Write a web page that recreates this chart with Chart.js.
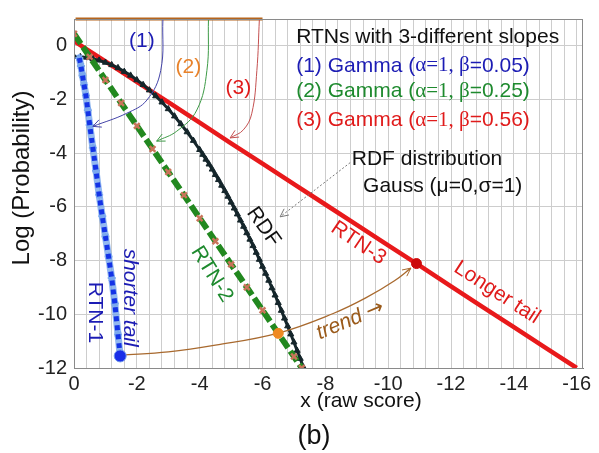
<!DOCTYPE html>
<html>
<head>
<meta charset="utf-8">
<script src="https://cdn.jsdelivr.net/npm/chart.js@4.4.1/dist/chart.umd.min.js"></script>
<style>
  html, body { margin: 0; padding: 0; background: #fff; }
  #wrap { width: 599px; height: 453px; }
</style>
</head>
<body>
<div id="wrap"><canvas id="tailChart" width="599" height="453"></canvas></div>
<script>
// Log-probability tails: three gamma RTN curves against the Gaussian RDF

// RDF, Gauss (mu=0, sigma=1)
const rdfX = [0, -0.2, -0.4, -0.6, -0.8, -1.0, -1.2, -1.4, -1.6, -1.8, -2.0, -2.2, -2.4, -2.6, -2.8,
  -3.0, -3.2, -3.4, -3.6, -3.8, -4.0, -4.1, -4.2, -4.3, -4.4, -4.5, -4.6, -4.7, -4.8, -4.9,
  -5.0, -5.1, -5.2, -5.3, -5.4, -5.5, -5.6, -5.7, -5.8, -5.9, -6.0, -6.1, -6.2, -6.3, -6.4,
  -6.5, -6.6, -6.7, -6.8, -6.9, -7.0, -7.1, -7.2, -7.3];
const rdfY = [-0.40, -0.41, -0.43, -0.48, -0.54, -0.62, -0.71, -0.82, -0.96, -1.10, -1.27, -1.45, -1.65, -1.87, -2.10,
  -2.35, -2.62, -2.91, -3.21, -3.53, -3.87, -4.05, -4.23, -4.41, -4.60, -4.80, -4.99, -5.20, -5.40, -5.61,
  -5.83, -6.05, -6.27, -6.50, -6.73, -6.97, -7.21, -7.45, -7.70, -7.96, -8.22, -8.48, -8.74, -9.02, -9.29,
  -9.57, -9.86, -10.15, -10.44, -10.74, -11.04, -11.35, -11.65, -11.97];

// RTN-1, gamma beta=0.05 (short tail)
const rtn1X = [-0.17, -0.22, -0.27, -0.32, -0.38, -0.44, -0.5, -0.6, -0.7, -0.8, -0.9, -1.0, -1.1, -1.2, -1.3, -1.4, -1.47];
const rtn1Y = [-0.45, -0.75, -1.1, -1.45, -1.85, -2.4, -2.95, -3.8, -4.65, -5.55, -6.35, -7.1, -7.85, -8.65, -9.6, -10.75, -11.55];

// RTN-2, gamma beta=0.25
const rtn2X = [0, -0.5, -1, -1.5, -2, -2.5, -3, -3.5, -4, -4.5, -5, -5.5, -6, -6.5, -7, -7.25];
const rtn2Y = [0.45, -0.41, -1.27, -2.13, -2.98, -3.84, -4.70, -5.56, -6.42, -7.28, -8.14, -8.99, -9.85, -10.71, -11.57, -12.0];

// RTN-3, gamma beta=0.56 (long tail)
const rtn3X = [0, -1, -2, -3, -4, -5, -6, -7, -8, -9, -10, -11, -12, -13, -14, -15, -16];
const rtn3Y = [0.18, -0.58, -1.34, -2.10, -2.86, -3.63, -4.39, -5.15, -5.91, -6.67, -7.43, -8.19, -8.96, -9.72, -10.48, -11.24, -12.0];

// tail end points joined by the trend arrow
const tailX = [-1.47, -6.5, -10.9];
const tailY = [-11.55, -10.71, -8.11];
const trendX = [-1.5, -3.0, -4.5, -6.5, -8.25, -9.3, -10.2, -10.72];
const trendY = [-11.52, -11.4, -11.15, -10.7, -9.97, -9.38, -8.75, -8.28];

// pointer arrows from the top edge to each RTN curve
const ptr1X = [-2.83, -2.76, -2.32, -1.68, -0.6];
const ptr1Y = [1, -0.92, -2.02, -2.51, -3.0];
const ptr2X = [-4.28, -4.23, -3.91, -3.27, -2.63];
const ptr2Y = [1, -0.92, -2.39, -3.18, -3.55];
const ptr3X = [-5.9, -5.82, -5.66, -5.39, -4.97];
const ptr3Y = [1, -0.92, -2.51, -3.13, -3.43];
const rdfPtrX = [-8.79, -6.56];
const rdfPtrY = [-4.35, -6.37];

const topBarX = [-0.05, -6.0];
const topBarY = [1, 1];

const SANS = '"Liberation Sans", Arial, sans-serif';
const SERIF = '"Liberation Serif", "Times New Roman", serif';
const ARROW = '"DejaVu Sans", sans-serif';

const pts = (xs, ys) => xs.map((x, i) => ({ x: x, y: ys[i] }));

// x grid every 0.4, labels on even values
const xGrid = [];
for (let i = 0; i <= 40; i++) xGrid.push(Math.round(-i * 4) / 10);

// text inside the plot, placed in data units
const richLabels = [
  { x: -7.07, y: 0.32, parts: [['RTNs with 3-different slopes', SANS, '#111']] },
  { x: -7.07, y: -0.75, parts: [['(1) Gamma (', SANS, '#1c1cb4'], ['\u03b1=1, \u03b2', SERIF, '#1c1cb4'], ['=0.05)', SANS, '#1c1cb4']] },
  { x: -7.07, y: -1.70, parts: [['(2) Gamma (', SANS, '#1e8a2e'], ['\u03b1=1, \u03b2', SERIF, '#1e8a2e'], ['=0.25)', SANS, '#1e8a2e']] },
  { x: -7.07, y: -2.77, parts: [['(3) Gamma (', SANS, '#e01b1b'], ['\u03b1=1, \u03b2', SERIF, '#e01b1b'], ['=0.56)', SANS, '#e01b1b']] },
  { x: -8.84, y: -4.23, parts: [['RDF distribution', SANS, '#111']] },
  { x: -9.2, y: -5.21, parts: [['Gauss (\u03bc=0,\u03c3=1)', SANS, '#111']] }
];
const tagLabels = [
  { parts: [['(1)', SANS]], x: -2.16, y: 0.18, angle: 0, color: '#1c1cb4' },
  { parts: [['(2)', SANS]], x: -3.64, y: -0.79, angle: 0, color: '#e8822a' },
  { parts: [['(3)', SANS]], x: -5.23, y: -1.59, angle: 0, color: '#e01b1b' },
  { parts: [['RDF', SANS]], x: -6.03, y: -6.74, angle: 55, color: '#111' },
  { parts: [['RTN-2', SANS]], x: -4.39, y: -8.51, angle: 58, color: '#1e8a2e' },
  { parts: [['RTN-3', SANS]], x: -9.05, y: -7.35, angle: 34, color: '#e01b1b' },
  { parts: [['Longer tail', SANS]], x: -13.46, y: -9.19, angle: 33, color: '#e01b1b' },
  { parts: [['trend ', SANS], ['\u2192', ARROW]], x: -8.79, y: -10.22, angle: -23, color: '#9a5a1a', italic: true },
  { parts: [['shorter tail', SANS]], x: -1.78, y: -9.38, angle: 90, color: '#1c1cb4', italic: true },
  { parts: [['RTN-1', SANS]], x: -0.67, y: -9.93, angle: 90, color: '#1c1cb4' }
];

function arrowHead(ctx, x, y, fx, fy, size, color) {
  const a = Math.atan2(y - fy, x - fx);
  ctx.save();
  ctx.strokeStyle = color;
  ctx.lineWidth = 1;
  ctx.setLineDash([]);
  ctx.beginPath();
  ctx.moveTo(x - size * Math.cos(a - 0.45), y - size * Math.sin(a - 0.45));
  ctx.lineTo(x, y);
  ctx.lineTo(x - size * Math.cos(a + 0.45), y - size * Math.sin(a + 0.45));
  ctx.stroke();
  ctx.restore();
}

const decorPlugin = {
  id: 'decor',
  afterDatasetsDraw(chart) {
    const ctx = chart.ctx;
    const a = chart.chartArea;
    // frame on top and right
    ctx.save();
    ctx.strokeStyle = '#8a8a8a';
    ctx.lineWidth = 1;
    ctx.strokeRect(a.left + 0.5, a.top + 0.5, a.right - a.left - 1, a.bottom - a.top);
    ctx.restore();

    chart.data.datasets.forEach((ds, i) => {
      if (!ds.arrowColor) return;
      const els = chart.getDatasetMeta(i).data;
      const last = els[els.length - 1];
      let fx = els[els.length - 2].x, fy = els[els.length - 2].y;
      if (last.cp1x !== undefined && (Math.abs(last.cp1x - last.x) + Math.abs(last.cp1y - last.y)) > 1) {
        fx = last.cp1x; fy = last.cp1y;
      }
      arrowHead(ctx, last.x, last.y, fx, fy, 9, ds.arrowColor);
    });
  },
  afterDraw(chart) {
    const ctx = chart.ctx;
    const xs = chart.scales.x, ys = chart.scales.y;
    ctx.save();
    ctx.textBaseline = 'middle';
    ctx.textAlign = 'left';
    richLabels.forEach(l => {
      let cx = xs.getPixelForValue(l.x);
      const cy = ys.getPixelForValue(l.y);
      l.parts.forEach(p => {
        ctx.font = '21px ' + p[1];
        ctx.fillStyle = p[2];
        ctx.fillText(p[0], cx, cy);
        cx += ctx.measureText(p[0]).width;
      });
    });
    // rotated tags, centred on their anchor
    tagLabels.forEach(l => {
      const style = (l.italic ? 'italic ' : '') + '21px ';
      let total = 0;
      l.parts.forEach(p => { ctx.font = style + p[1]; total += ctx.measureText(p[0]).width; });
      ctx.save();
      ctx.translate(xs.getPixelForValue(l.x), ys.getPixelForValue(l.y));
      ctx.rotate(l.angle * Math.PI / 180);
      ctx.fillStyle = l.color;
      let cx = -total / 2;
      l.parts.forEach(p => {
        ctx.font = style + p[1];
        ctx.fillText(p[0], cx, 0);
        cx += ctx.measureText(p[0]).width;
      });
      ctx.restore();
    });
    // axis titles and panel tag
    ctx.textAlign = 'center';
    ctx.fillStyle = '#111';
    ctx.font = '24px ' + SANS;
    ctx.save();
    ctx.translate(22, 178);
    ctx.rotate(-Math.PI / 2);
    ctx.fillText('Log (Probability)', 0, 0);
    ctx.restore();
    ctx.font = '21px ' + SANS;
    ctx.fillText('x (raw score)', 361, 401);
    ctx.font = '27px ' + SANS;
    ctx.fillText('(b)', 314, 437);
    ctx.restore();
  }
};

const thin = (xs, ys, color, order, extra) => Object.assign({
  data: pts(xs, ys), showLine: true, borderColor: color, borderWidth: 1,
  pointRadius: 0, tension: 0.4, order: order, arrowColor: color
}, extra || {});

new Chart(document.getElementById('tailChart'), {
  type: 'scatter',
  data: {
    datasets: [
      {
        data: pts(tailX, tailY), showLine: false, order: 0,
        pointRadius: [6, 5, 5], pointBackgroundColor: ['#1a2ee8', '#ef8a22', '#cc0a0a'],
        pointBorderColor: ['#6f95ea', '#ef8a22', '#cc0a0a'], pointBorderWidth: 1
      },
      thin(trendX, trendY, '#a8692e', 1, { borderWidth: 1.3 }),
      thin(ptr1X, ptr1Y, '#4343a8', 1),
      thin(ptr2X, ptr2Y, '#3d9a46', 1),
      thin(ptr3X, ptr3Y, '#c45050', 1),
      thin(rdfPtrX, rdfPtrY, '#777', 1, { tension: 0, borderDash: [2, 2] }),
      {
        data: pts(topBarX, topBarY), showLine: true, borderColor: '#b5651d', borderWidth: 3,
        pointRadius: 0, order: 1, clip: 5
      },
      {
        data: pts(rtn1X, rtn1Y), showLine: true, borderColor: '#1433e6', borderWidth: 5,
        borderDash: [5, 4], pointRadius: 0, order: 2
      },
      {
        data: pts(rtn1X, rtn1Y), showLine: true, borderColor: 'rgba(110,160,235,0.75)', borderWidth: 7,
        pointStyle: 'star', pointRadius: 4, pointBorderColor: '#7aa8ee', pointBorderWidth: 2, order: 3
      },
      {
        data: pts(rtn2X, rtn2Y), showLine: true, borderColor: '#22881f', borderWidth: 6,
        borderDash: [12, 4], pointStyle: 'crossRot', pointRadius: 4,
        pointBorderColor: '#c9745a', pointBorderWidth: 2.5, order: 4
      },
      {
        data: pts(rdfX, rdfY), showLine: true, borderColor: '#15262b', borderWidth: 3,
        pointStyle: 'triangle', pointRadius: 3.5, pointBackgroundColor: '#15262b',
        pointBorderColor: '#15262b', pointBorderWidth: 1, order: 5
      },
      {
        data: pts(rtn3X, rtn3Y), showLine: true, borderColor: '#e8191b', borderWidth: 4.5,
        pointRadius: 0, order: 6
      }
    ]
  },
  options: {
    responsive: false,
    animation: false,
    events: [],
    layout: { padding: { top: 14, right: 16, left: 0, bottom: 0 } },
    plugins: { legend: { display: false }, tooltip: { enabled: false } },
    scales: {
      x: {
        type: 'linear', reverse: true, min: -16.2, max: 0,
        afterBuildTicks: s => { s.ticks = xGrid.map(v => ({ value: v })); },
        afterFit: s => { s.height = 85; },
        ticks: {
          autoSkip: false, maxRotation: 0, padding: 4, color: '#222',
          font: { family: SANS, size: 20 },
          callback: v => (Math.abs(v % 2) < 1e-6 ? String(Math.round(v)) : '')
        },
        grid: { color: '#cdcdcd', drawTicks: false },
        border: { color: '#7a7a7a' }
      },
      y: {
        type: 'linear', min: -12, max: 1,
        afterFit: s => { s.width = 74; },
        ticks: {
          stepSize: 1, padding: 7, color: '#222',
          font: { family: SANS, size: 20 },
          callback: v => (v <= 0 && v % 2 === 0 ? String(v) : '')
        },
        grid: { color: '#cdcdcd', drawTicks: false },
        border: { color: '#7a7a7a' }
      }
    }
  },
  plugins: [decorPlugin]
});
</script>
</body>
</html>
